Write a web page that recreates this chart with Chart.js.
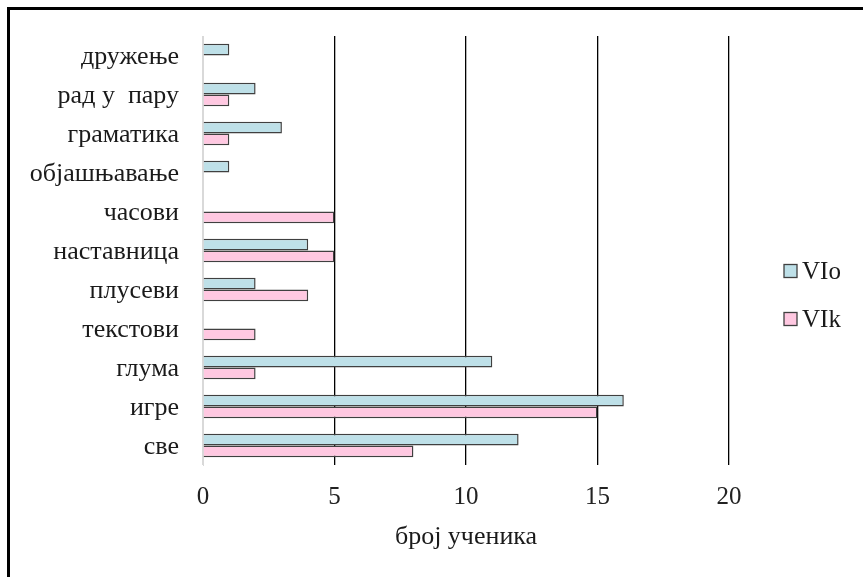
<!DOCTYPE html>
<html>
<head>
<meta charset="utf-8">
<script src="https://cdn.jsdelivr.net/npm/chart.js@4.4.1/dist/chart.umd.min.js"></script>
<style>
  html, body { margin: 0; padding: 0; background: #fff; }
  #wrap { position: relative; width: 863px; height: 577px; }
  #frame { position: absolute; left: 7px; top: 7px; right: -10px; bottom: -10px;
           border-top: 3px solid #000; border-left: 3px solid #000; pointer-events: none; }
  canvas { position: absolute; left: 0; top: 0; }
</style>
</head>
<body>
<div id="wrap">
  <canvas id="c" width="863" height="577"></canvas>
  <div id="frame"></div>
</div>
<script>
// Reasons students named, per class
const categories = ['дружење', 'рад у  пару', 'граматика', 'објашњавање', 'часови',
                    'наставница', 'плусеви', 'текстови', 'глума', 'игре', 'све'];
const seriesNames = ['VIo', 'VIk'];
const valuesVIo = [1, 2, 3, 1, 0, 4, 2, 0, 11, 16, 12];
const valuesVIk = [0, 1, 1, 0, 5, 5, 4, 2, 2, 15, 8];
const xTicks = [0, 5, 10, 15, 20];
const axisTitle = 'број ученика';

const SERIF = '"Liberation Serif", "Times New Roman", serif';
const fillColors = ['#bee0e8', '#ffc8e1'];
const edgeColor = '#404040';

// Legend drawn on the canvas at the right of the plot
const sideLegend = {
  id: 'sideLegend',
  afterDraw(chart) {
    const ctx = chart.ctx;
    ctx.save();
    ctx.font = '25px ' + SERIF;
    ctx.textBaseline = 'middle';
    chart.data.datasets.forEach((ds, i) => {
      const y = 271 + i * 48;
      ctx.fillStyle = ds.backgroundColor;
      ctx.fillRect(784, y - 6.5, 13, 13);
      ctx.strokeStyle = edgeColor;
      ctx.lineWidth = 1.3;
      ctx.strokeRect(784, y - 6.5, 13, 13);
      ctx.fillStyle = '#1a1a1a';
      ctx.fillText(ds.label, 802, y + 1);
    });
    ctx.restore();
  }
};

new Chart(document.getElementById('c'), {
  type: 'bar',
  data: {
    labels: categories,
    datasets: [
      { label: seriesNames[0], data: valuesVIo, backgroundColor: fillColors[0],
        borderColor: edgeColor, borderWidth: 1.5, borderSkipped: 'left' },
      { label: seriesNames[1], data: valuesVIk, backgroundColor: fillColors[1],
        borderColor: edgeColor, borderWidth: 1.5, borderSkipped: 'left' }
    ]
  },
  options: {
    indexAxis: 'y',
    responsive: false,
    animation: false,
    devicePixelRatio: 1,
    layout: { padding: { top: 36, right: 134, bottom: 0, left: 0 } },
    datasets: { bar: { categoryPercentage: 0.6, barPercentage: 1.0 } },
    plugins: { legend: { display: false }, tooltip: { enabled: false } },
    scales: {
      x: {
        min: 0, max: 20,
        afterBuildTicks(scale) { scale.ticks = xTicks.map(v => ({ value: v })); },
        afterFit(scale) { scale.height = 112; scale.paddingLeft = 0; scale.paddingRight = 0; },
        grid: {
          drawTicks: false,
          color: ctx => ctx.tick && ctx.tick.value === 0 ? '#d9d9d9' : '#000',
          lineWidth: 1.3
        },
        border: { display: false },
        ticks: { padding: 17, color: '#222', font: { family: SERIF, size: 25 } },
        title: { display: true, text: axisTitle, color: '#1a1a1a',
                 font: { family: SERIF, size: 26 }, padding: { top: 0, bottom: 24 } }
      },
      y: {
        afterFit(scale) { scale.width = 203; scale.paddingTop = 0; scale.paddingBottom = 0; },
        grid: { display: false, drawTicks: false },
        border: { display: true, color: '#d9d9d9', width: 1 },
        ticks: { padding: 24, labelOffset: 2, color: '#1a1a1a',
                 font: { family: SERIF, size: 26 } }
      }
    }
  },
  plugins: [sideLegend]
});
</script>
</body>
</html>
